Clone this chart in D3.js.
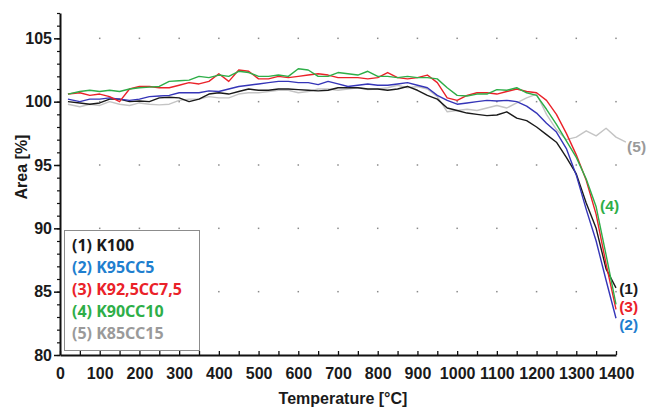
<!DOCTYPE html>
<html>
<head>
<meta charset="utf-8">
<script src="https://cdn.jsdelivr.net/npm/d3@7"></script>
<style>
  body { margin: 0; background: #fff; }
  svg { display: block; }
  .tick-label { font-family: "Liberation Sans", Arial, sans-serif; font-weight: bold; font-size: 16px; fill: #1a1a1a; }
  .note { font-family: "Noto Sans", sans-serif; font-weight: bold; font-size: 16px; }
  .tag { font-family: "Liberation Sans", Arial, sans-serif; font-weight: bold; font-size: 15.5px; }
</style>
</head>
<body>
<script>
// temperature samples [°C]
const temps = [20, 50, 75, 100, 125, 150, 175, 200, 225, 250,
  275, 300, 325, 350, 375, 400, 425, 450, 475, 500,
  525, 550, 575, 600, 625, 650, 675, 700, 725, 750,
  775, 800, 825, 850, 875, 900, 925, 950, 975, 1000,
  1025, 1050, 1075, 1100, 1125, 1150, 1175, 1200, 1225, 1250,
  1275, 1300, 1325, 1350, 1375, 1400, 1425];

// area [%] per sample
const k100 = [100.0, 99.9, 99.8, 99.9, 100.2, 100.2, 100.0, 100.05, 100.0, 100.3,
  100.35, 100.3, 100.0, 100.2, 100.6, 100.7, 100.6, 100.8, 101.0, 100.9,
  100.9, 101.0, 101.0, 100.95, 100.9, 100.85, 100.9, 101.1, 101.1, 101.1,
  101.0, 101.0, 100.9, 101.0, 101.2, 100.9, 100.5, 100.2, 99.5, 99.3,
  99.1, 99.0, 98.9, 98.95, 99.2, 98.7, 98.5, 98.0, 97.4, 96.8,
  95.6, 94.3, 92.0, 90.0, 86.8, 85.3, null];

const k95cc5 = [100.2, 100.0, 100.2, 100.2, 100.3, 100.2, 100.1, 100.2, 100.4, 100.45,
  100.5, 100.7, 100.7, 100.7, 100.85, 100.8, 101.0, 101.2, 101.3, 101.4,
  101.5, 101.6, 101.6, 101.5, 101.5, 101.35, 101.6, 101.4, 101.2, 101.3,
  101.4, 101.3, 101.3, 101.4, 101.5, 101.3, 101.1, 100.5, 100.1, 99.8,
  99.9, 100.0, 100.1, 100.05, 100.1, 100.0, 99.65, 99.1, 98.3, 97.6,
  96.3, 94.2, 91.5, 89.0, 85.9, 82.9, null];

const k925cc75 = [100.6, 100.7, 100.5, 100.6, 100.4, 100.0, 101.0, 101.2, 101.2, 101.1,
  101.1, 101.3, 101.5, 101.4, 101.6, 102.2, 101.6, 102.5, 102.4, 101.8,
  101.8, 102.0, 101.9, 102.0, 102.1, 102.2, 102.1, 101.9, 101.9, 101.9,
  101.8, 101.9, 102.3, 101.9, 101.8, 101.9, 102.1, 101.5, 100.3, 100.1,
  100.5, 100.7, 100.7, 100.6, 100.8, 101.0, 100.8, 100.7, 100.1, 99.0,
  97.5, 95.8, 93.8, 91.1, 87.2, 83.6, null];

const k90cc10 = [100.6, 100.8, 100.9, 100.8, 100.9, 100.8, 101.0, 101.1, 101.15, 101.2,
  101.6, 101.65, 101.7, 102.0, 101.9, 102.1, 102.0, 102.4, 102.3, 102.0,
  102.0, 102.1, 102.0, 102.6, 102.5, 102.0, 102.0, 102.3, 102.2, 102.1,
  102.4, 102.0, 102.0, 101.9, 102.0, 101.9, 101.9, 101.8, 101.1, 100.5,
  100.45, 100.6, 100.6, 100.95, 100.9, 101.1, 100.7, 100.5, 99.4, 98.2,
  96.9, 95.6, 93.9, 91.7, 87.9, 84.0, null];

const k85cc15 = [99.8, 99.6, 99.8, 99.7, 100.0, 99.8, 99.7, 99.9, 99.8, 99.75,
  99.8, 100.1, 100.2, 100.2, 100.4, 100.3, 100.3, 100.6, 100.7, 100.7,
  100.8, 100.9, 100.9, 100.7, 100.8, 101.0, 101.0, 100.9, 101.0, 101.1,
  100.95, 101.0, 101.1, 101.3, 101.1, 101.2, 101.0, 100.4, 99.2, 99.3,
  99.4, 99.3, 99.5, 99.7, 99.5, 99.9, 100.3, 100.6, 99.0, 97.8,
  97.0, 97.2, 97.7, 97.3, 97.9, 97.2, 96.8];

const legendNames = ["(1) K100", "(2) K95CC5", "(3) K92,5CC7,5", "(4) K90CC10", "(5) K85CC15"];
const endTags = ["(1)", "(2)", "(3)", "(4)", "(5)"];
// where each end tag sits, as [temperature, area]
const tagT = [1408, 1408, 1408, 1360, 1428];
const tagV = [84.82, 81.97, 83.39, 91.4, 96.05];
const xTicks = [0, 100, 200, 300, 400, 500, 600, 700, 800, 900, 1000, 1100, 1200, 1300, 1400];
const yTicks = [80, 85, 90, 95, 100, 105];

const lineColors = ["#1a1a1a", "#3535b8", "#ea2229", "#2eae48", "#c4c4c4"];
const textColors = ["#1a1a1a", "#1f7fcf", "#ea2229", "#2eae48", "#9a9a9a"];

const W = 650, H = 410;
const x = d3.scaleLinear().domain([0, 1400]).range([60, 616]);
const y = d3.scaleLinear().domain([80, 107]).range([355, 13]);

const svg = d3.select("body").append("svg").attr("width", W).attr("height", H);

// dotted grid: one dot per 100 °C and 5 %
const dots = [];
xTicks.filter(t => t > 0).forEach(t => yTicks.filter(v => v > 80).forEach(v => dots.push([t, v])));
svg.append("g").selectAll("rect").data(dots).enter().append("rect")
  .attr("x", d => x(d[0]) - 0.75).attr("y", d => y(d[1]) - 0.75)
  .attr("width", 1.5).attr("height", 1.5).attr("fill", "#8a8a8a");

// curves, grey drawn first so the others sit on top
const series = [k100, k95cc5, k925cc75, k90cc10, k85cc15];
const line = d3.line()
  .defined(d => d[1] != null)
  .x(d => x(d[0])).y(d => y(d[1]));

[4, 0, 1, 2, 3].forEach(i => {
  svg.append("path")
    .datum(temps.map((t, j) => [t, series[i][j]]))
    .attr("fill", "none")
    .attr("stroke", lineColors[i])
    .attr("stroke-width", 1.4)
    .attr("stroke-linejoin", "round")
    .attr("d", line);
});

// axes
const yMinor = svg.append("g").attr("transform", "translate(60,0)")
  .call(d3.axisLeft(y).tickValues(d3.range(80, 108, 1)).tickSize(3).tickFormat(""));
yMinor.select(".domain").remove();
yMinor.selectAll("line").attr("stroke", "#111").attr("stroke-width", 1.2);

const yAxis = svg.append("g").attr("transform", "translate(60,0)")
  .call(d3.axisLeft(y).tickValues(yTicks).tickSize(6).tickSizeOuter(0).tickPadding(2));
yAxis.select(".domain").attr("stroke", "#111").attr("stroke-width", 2);
yAxis.selectAll("line").attr("stroke", "#111").attr("stroke-width", 1.5);
yAxis.selectAll("text").attr("class", "tick-label").attr("font-size", null).attr("font-family", null);

const xAxis = svg.append("g").attr("transform", "translate(0,355)")
  .call(d3.axisBottom(x).tickValues(d3.range(0, 1401, 50)).tickSizeInner(-4).tickSizeOuter(0)
    .tickPadding(13).tickFormat(d => d % 100 === 0 ? d : ""));
xAxis.select(".domain").attr("stroke", "#111").attr("stroke-width", 2);
xAxis.selectAll("line").attr("stroke", "#111").attr("stroke-width", 1.3);
xAxis.selectAll("text").attr("class", "tick-label").attr("font-size", null).attr("font-family", null);

// axis titles
svg.append("text").attr("class", "tick-label")
  .attr("transform", "translate(27,167) rotate(-90)")
  .attr("text-anchor", "middle").text("Area [%]");
svg.append("text").attr("class", "tick-label")
  .attr("x", 343).attr("y", 404)
  .attr("text-anchor", "middle").text("Temperature [°C]");

// legend
const lg = svg.append("g");
lg.append("rect").attr("x", 64.5).attr("y", 230.5).attr("width", 135).attr("height", 120)
  .attr("fill", "#fff").attr("stroke", "#8c8c8c").attr("stroke-width", 1);
lg.selectAll("text").data(legendNames).enter().append("text")
  .attr("class", "note")
  .attr("x", 72).attr("y", (d, i) => 251 + i * 22)
  .attr("fill", (d, i) => textColors[i])
  .text(d => d);

// tags at the curve ends
svg.selectAll(".tag").data(endTags).enter().append("text")
  .attr("class", "tag")
  .attr("x", (d, i) => x(tagT[i]))
  .attr("y", (d, i) => y(tagV[i]))
  .attr("fill", (d, i) => textColors[i])
  .text(d => d);
</script>
</body>
</html>
